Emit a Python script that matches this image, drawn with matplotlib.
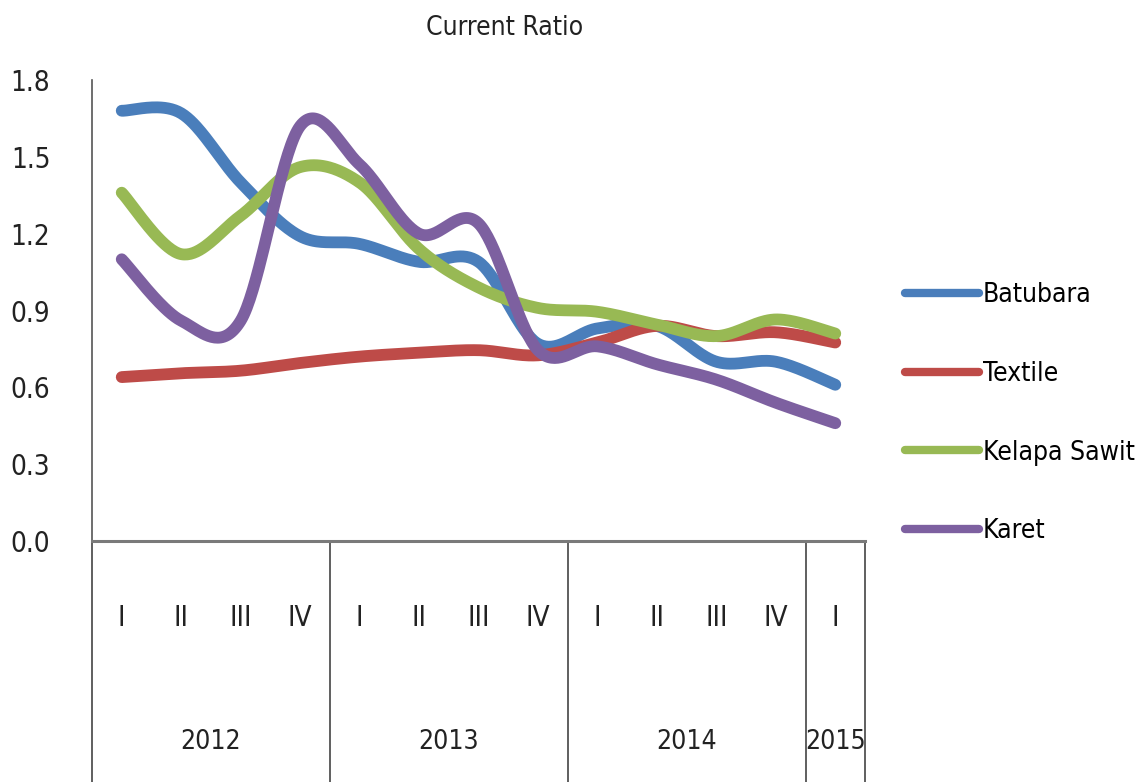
import numpy as np
import matplotlib
matplotlib.use("Agg")
import matplotlib.pyplot as plt
from matplotlib.lines import Line2D

plt.rcParams['font.family'] = ['DejaVu Sans']
plt.rcParams['font.stretch'] = 'condensed'

quarters = ['I', 'II', 'III', 'IV', 'I', 'II', 'III', 'IV', 'I', 'II', 'III', 'IV', 'I']
years = ['2012', '2013', '2014', '2015']
year_counts = [4, 4, 4, 1]

series_names = ['Batubara', 'Textile', 'Kelapa Sawit', 'Karet']
batubara = [1.68, 1.67, 1.40, 1.19, 1.16, 1.09, 1.09, 0.77, 0.83, 0.84, 0.70, 0.70, 0.61]
textile = [0.64, 0.655, 0.665, 0.695, 0.72, 0.735, 0.745, 0.725, 0.775, 0.84, 0.80, 0.815, 0.775]
kelapa_sawit = [1.36, 1.12, 1.27, 1.46, 1.40, 1.14, 0.99, 0.91, 0.895, 0.845, 0.80, 0.865, 0.81]
karet = [1.10, 0.86, 0.86, 1.62, 1.47, 1.20, 1.24, 0.745, 0.76, 0.69, 0.63, 0.54, 0.46]
colors = ['#4A7EBB', '#BE4B48', '#98B954', '#7D60A0']

yticks = [0.0, 0.3, 0.6, 0.9, 1.2, 1.5, 1.8]


def excel_smooth(x, y, n=40):
    pts = np.column_stack([x, y]).astype(float)
    P = np.vstack([pts[0], pts, pts[-1]])
    out = []
    t = np.linspace(0, 1, n)[:, None]
    for i in range(len(pts) - 1):
        p0, p1, p2, p3 = P[i], P[i + 1], P[i + 2], P[i + 3]
        c1 = p1 + (p2 - p0) / 6.0
        c2 = p2 - (p3 - p1) / 6.0
        seg = (1 - t) ** 3 * p1 + 3 * (1 - t) ** 2 * t * c1 + 3 * (1 - t) * t ** 2 * c2 + t ** 3 * p2
        out.append(seg if i == 0 else seg[1:])
    return np.vstack(out)


W, H = 1141, 782
fig = plt.figure(figsize=(W / 100, H / 100), dpi=100)
ax = fig.add_axes([92 / W, 241 / H, (865 - 92) / W, 461 / H])

x = np.arange(len(quarters))
handles = []
for name, vals, c in zip(series_names, [batubara, textile, kelapa_sawit, karet], colors):
    s = excel_smooth(x, vals)
    ax.plot(s[:, 0], s[:, 1], color=c, lw=8.5, solid_capstyle='round', solid_joinstyle='round')
    handles.append(Line2D([], [], color=c, lw=6, solid_capstyle='round', label=name))

ax.set_xlim(-0.5, len(quarters) - 0.5)
ax.set_ylim(0, 1.8)
ax.set_yticks(yticks)
ax.set_yticklabels([f'{v:.1f}' for v in yticks])
ax.tick_params(axis='y', length=0, pad=30, labelsize=20, labelcolor='#222222')
ax.set_xticks([])
for sp in ['top', 'right']:
    ax.spines[sp].set_visible(False)
ax.spines['left'].set_color('#555555')
ax.spines['left'].set_linewidth(1.2)
ax.spines['bottom'].set_color('#7a7a7a')
ax.spines['bottom'].set_linewidth(2.2)

tr = ax.get_xaxis_transform()
for i, q in enumerate(quarters):
    ax.text(i, -0.167, q, transform=tr, ha='center', va='center', fontsize=20, color='#222222')

bounds = [-0.5]
start = 0
for yr, cnt in zip(years, year_counts):
    ax.text(start + (cnt - 1) / 2, -0.436, yr, transform=tr, ha='center', va='center', fontsize=19, color='#222222')
    start += cnt
    bounds.append(start - 0.5)
for b in bounds:
    ax.plot([b, b], [0, -0.53], transform=tr, clip_on=False, color='#444444', lw=1.2)

fig.text(505 / W, 1 - 28 / H, 'Current Ratio', ha='center', va='center', fontsize=19, color='#222222')

fig.legend(handles=handles, loc='upper left', bbox_to_anchor=(905 / W, 1 - 282 / H), frameon=False,
           fontsize=19, handlelength=2.8, handletextpad=0.15, labelspacing=2.0, borderpad=0,
           borderaxespad=0)

fig.savefig('out.png', dpi=100, facecolor='white')
